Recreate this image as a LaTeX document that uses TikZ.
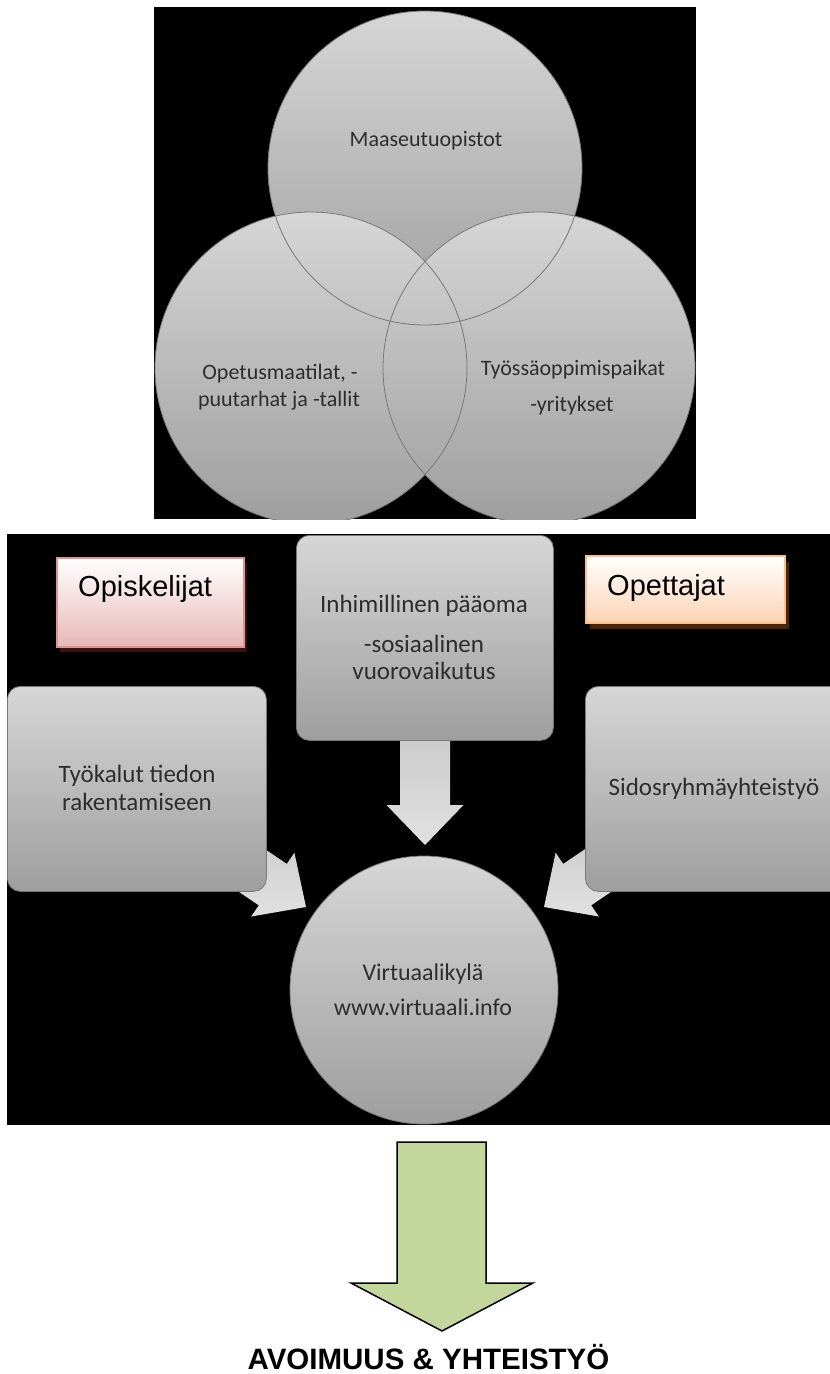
\documentclass[tikz,border=0pt]{standalone}
\usepackage{fontspec}
\setmainfont{Carlito}
\newfontfamily\arialf{Liberation Sans}
\definecolor{vlight}{RGB}{214,214,214}
\definecolor{vdark}{RGB}{158,158,158}
\definecolor{vline}{RGB}{120,120,120}
\definecolor{txtgray}{RGB}{45,45,45}
\definecolor{pinkb}{RGB}{217,150,148}
\definecolor{pinkf}{RGB}{230,184,183}
\definecolor{pinks}{RGB}{60,16,16}
\definecolor{orab}{RGB}{250,192,143}
\definecolor{oraf}{RGB}{251,212,180}
\definecolor{oras}{RGB}{74,37,5}
\definecolor{greenf}{RGB}{195,214,155}
\definecolor{arrtop}{RGB}{200,200,200}
\definecolor{arrbot}{RGB}{225,225,225}
\begin{document}
\begin{tikzpicture}[x=1pt,y=-1pt,
  venn/.style={top color=vlight,bottom color=vdark},
  vennline/.style={draw=vline,line width=0.8pt},
  venntxt/.style={font=\fontsize{22}{26}\selectfont,text=txtgray,inner sep=0pt,anchor=base},
  graybox/.style={rectangle,rounded corners=13pt,draw=vline,line width=0.8pt,
    top color=vlight,bottom color=vdark,inner sep=0pt},
  graycirc/.style={circle,draw=vline,line width=0.8pt,
    top color=vlight,bottom color=vdark,inner sep=0pt},
  boxtxt/.style={font=\fontsize{25}{30}\selectfont,text=txtgray,inner sep=0pt,anchor=base},
  circtxt/.style={font=\fontsize{24}{28}\selectfont,text=txtgray,inner sep=0pt,anchor=base},
  blockarrow/.style={top color=arrtop,bottom color=arrbot},
  rolebox/.style={rectangle,line width=2pt,inner sep=0pt,anchor=north west},
  roletxt/.style={font=\arialf\fontsize{29}{34}\selectfont,text=black,inner sep=0pt,anchor=base west}
]
\useasboundingbox (0,0) rectangle (830,1374);
\fill[white] (0,0) rectangle (830,1374);

% ---------- top panel: Venn ----------
\fill[black] (154,7) rectangle (696,519);
\begin{scope}
  \clip (154,7) rectangle (696,519);
  \path[venn] (425,168) circle[radius=157pt];
  \path[venn] (311,368) circle[radius=156pt];
  \path[venn] (539,368) circle[radius=156pt];
  \path[vennline] (425,168) circle[radius=157pt];
  \path[vennline] (311,368) circle[radius=156pt];
  \path[vennline] (539,368) circle[radius=156pt];
\end{scope}
\node[venntxt] (maas) at (426,146) {Maaseutuopistot};
\node[venntxt] (opet1) at (280,379) {Opetusmaatilat, -};
\node[venntxt] (opet2) at (279,406) {puutarhat ja -tallit};
\node[venntxt] (tyo1) at (573,375) {Työssäoppimispaikat};
\node[venntxt] (tyo2) at (572,411) {-yritykset};

% ---------- middle panel ----------
\fill[black] (7,534) rectangle (830,1125);
\begin{scope}
  \clip (7,534) rectangle (830,1125);
  % block arrows (shafts hidden under boxes)
  \path[blockarrow] (400,720) -- (450,720) -- (450,805) -- (463.5,805) -- (425,845)
     -- (386.5,805) -- (400,805) -- cycle;
  \path[blockarrow] (220.5,819) -- (286.8,863.9) -- (294.4,852.7) -- (306,907)
     -- (251.2,916.5) -- (258.8,905.3) -- (192.5,860.4) -- cycle;
  \path[blockarrow] (629.5,819) -- (563.2,863.9) -- (555.6,852.7) -- (544,907)
     -- (598.8,916.5) -- (591.2,905.3) -- (657.5,860.4) -- cycle;
  % boxes
  \node[graybox,minimum width=259pt,minimum height=205pt,anchor=north west] (tools) at (7,686) {};
  \node[graybox,minimum width=257pt,minimum height=205pt,anchor=north west] (human) at (296,535) {};
  \node[graybox,minimum width=258pt,minimum height=205pt,anchor=north west] (stake) at (585,686) {};
  \node[graycirc,minimum size=268pt] (village) at (424,990) {};
\end{scope}
\node[boxtxt] (tools1) at (137,782) {Työkalut tiedon};
\node[boxtxt] (tools2) at (137,810) {rakentamiseen};
\node[boxtxt] (human1) at (424,612) {Inhimillinen pääoma};
\node[boxtxt] (human2) at (424,652) {-sosiaalinen};
\node[boxtxt] (human3) at (424,679) {vuorovaikutus};
\node[boxtxt] (stake1) at (714,795) {Sidosryhmäyhteistyö};
\node[circtxt] (village1) at (423,980) {Virtuaalikylä};
\node[circtxt] (village2) at (423,1015) {www.virtuaali.info};

% role boxes
\fill[pinks] (60,563) rectangle (247,652);
\node[rolebox,draw=pinkb,top color=white,bottom color=pinkf,minimum width=187pt,minimum height=89pt] (opisk) at (56,557) {};
\node[roletxt] (opisktxt) at (78,596) {Opiskelijat};
\fill[oras] (590,562) rectangle (789,629);
\node[rolebox,draw=orab,top color=white,bottom color=oraf,minimum width=199pt,minimum height=67pt] (opett) at (585,555) {};
\node[roletxt] (opetttxt) at (607,595) {Opettajat};

% ---------- green arrow and result ----------
\draw[fill=greenf,draw=black,line width=1.5pt,line join=miter]
  (397,1142) -- (486,1142) -- (486,1283) -- (533,1283) -- (442,1331)
  -- (351,1283) -- (397,1283) -- cycle;
\node[font=\arialf\bfseries\fontsize{29.5}{34}\selectfont,inner sep=0pt,anchor=base] (result) at (428.5,1369) {AVOIMUUS \& YHTEISTYÖ};
\end{tikzpicture}
\end{document}
